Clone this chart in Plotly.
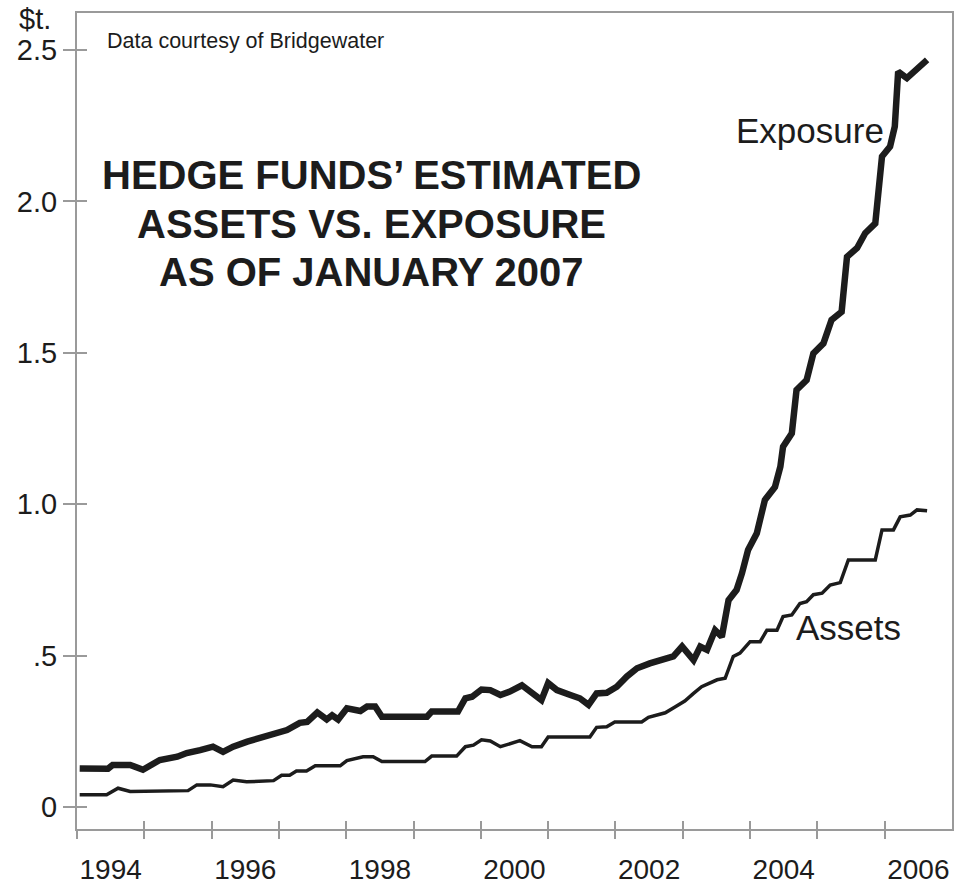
import plotly.graph_objects as go

# ---------------- data ----------------
exposure_years = [
    1994.04, 1994.46, 1994.53, 1994.79, 1994.98, 1995.23, 1995.49, 1995.63, 1995.83, 1996.02,
    1996.17, 1996.32, 1996.53, 1996.72, 1996.91, 1997.12, 1997.31, 1997.42, 1997.57, 1997.71,
    1997.79, 1997.88, 1998.01, 1998.21, 1998.31, 1998.43, 1998.53, 1999.20, 1999.27, 1999.66,
    1999.77, 1999.87, 2000.01, 2000.14, 2000.29, 2000.43, 2000.61, 2000.78, 2000.90, 2001.00,
    2001.13, 2001.33, 2001.47, 2001.60, 2001.72, 2001.87, 2002.02, 2002.17, 2002.32, 2002.51,
    2002.71, 2002.86, 2002.99, 2003.16, 2003.26, 2003.36, 2003.48, 2003.58, 2003.68, 2003.80,
    2003.88, 2003.97, 2004.10, 2004.22, 2004.37, 2004.45, 2004.49, 2004.62, 2004.69, 2004.84,
    2004.94, 2005.09, 2005.21, 2005.36, 2005.44, 2005.59, 2005.71, 2005.86, 2005.96, 2006.08,
    2006.15, 2006.20, 2006.33, 2006.43, 2006.63,
]
exposure_values = [
    0.127, 0.126, 0.139, 0.139, 0.123, 0.155, 0.166, 0.178, 0.188, 0.199,
    0.182, 0.199, 0.216, 0.227, 0.238, 0.254, 0.278, 0.281, 0.312, 0.289,
    0.303, 0.289, 0.326, 0.317, 0.332, 0.332, 0.298, 0.298, 0.315, 0.315,
    0.359, 0.364, 0.388, 0.386, 0.370, 0.381, 0.402, 0.370, 0.353, 0.409,
    0.386, 0.370, 0.359, 0.337, 0.375, 0.377, 0.397, 0.431, 0.458, 0.474,
    0.485, 0.497, 0.530, 0.485, 0.530, 0.519, 0.584, 0.562, 0.683, 0.717,
    0.772, 0.849, 0.904, 1.014, 1.057, 1.124, 1.190, 1.234, 1.377, 1.410,
    1.498, 1.531, 1.608, 1.635, 1.817, 1.846, 1.895, 1.927, 2.148, 2.181,
    2.247, 2.428, 2.407, 2.429, 2.467,
]

assets_years = [
    1994.04, 1994.44, 1994.61, 1994.79, 1995.65, 1995.78, 1995.98, 1996.17, 1996.32, 1996.52,
    1996.92, 1997.04, 1997.16, 1997.26, 1997.41, 1997.54, 1997.91, 1998.01, 1998.25, 1998.40,
    1998.53, 1999.17, 1999.27, 1999.64, 1999.77, 1999.89, 2000.01, 2000.14, 2000.29, 2000.43,
    2000.58, 2000.76, 2000.90, 2001.00, 2001.62, 2001.72, 2001.87, 2001.99, 2002.39, 2002.49,
    2002.74, 2002.89, 2003.03, 2003.16, 2003.28, 2003.51, 2003.63, 2003.75, 2003.85, 2004.00,
    2004.15, 2004.25, 2004.40, 2004.49, 2004.62, 2004.74, 2004.84, 2004.94, 2005.07, 2005.19,
    2005.34, 2005.46, 2005.86, 2005.96, 2006.13, 2006.23, 2006.38, 2006.48, 2006.63,
]
assets_values = [
    0.040, 0.040, 0.062, 0.051, 0.054, 0.073, 0.073, 0.067, 0.089, 0.083,
    0.087, 0.105, 0.105, 0.119, 0.119, 0.136, 0.136, 0.153, 0.166, 0.166,
    0.150, 0.150, 0.168, 0.168, 0.199, 0.204, 0.222, 0.218, 0.199, 0.210,
    0.219, 0.199, 0.199, 0.231, 0.231, 0.263, 0.265, 0.281, 0.281, 0.296,
    0.311, 0.331, 0.350, 0.375, 0.397, 0.420, 0.425, 0.497, 0.508, 0.546,
    0.546, 0.584, 0.584, 0.629, 0.634, 0.672, 0.678, 0.701, 0.706, 0.733,
    0.741, 0.816, 0.816, 0.915, 0.915, 0.958, 0.964, 0.981, 0.978,
]

year_boundaries = list(range(1994, 2007))
year_label_positions = [1994.5, 1996.5, 1998.5, 2000.5, 2002.5, 2004.5, 2006.5]
year_labels = ["1994", "1996", "1998", "2000", "2002", "2004", "2006"]

y_tickvals = [0, 0.5, 1.0, 1.5, 2.0, 2.5]
y_ticktext = ["0", ".5", "1.0", "1.5", "2.0", "2.5"]

title_lines = ["HEDGE FUNDS\u2019 ESTIMATED", "ASSETS VS. EXPOSURE", "AS OF JANUARY 2007"]

# ---------------- figure ----------------
FONT = "Liberation Sans, Arial, Helvetica, sans-serif"
INK = "#1c1c1c"
AXIS = "#9a9a9a"

fig = go.Figure()
fig.add_trace(go.Scatter(x=exposure_years, y=exposure_values, mode="lines",
                         line=dict(color=INK, width=6.5), name="Exposure",
                         xaxis="x", yaxis="y", hoverinfo="skip"))
fig.add_trace(go.Scatter(x=assets_years, y=assets_values, mode="lines",
                         line=dict(color=INK, width=3.5), name="Assets",
                         xaxis="x2", yaxis="y2", hoverinfo="skip"))

x_range = [1994, 2007]
y_range = [-0.0727, 2.622]

fig.update_layout(
    width=958, height=884, autosize=False,
    margin=dict(l=77, r=6, t=13, b=55),
    paper_bgcolor="white", plot_bgcolor="white",
    showlegend=False,
    font=dict(family=FONT, color=INK),
    # main x axis: year labels centred in each year, outside ticks at year starts
    xaxis=dict(range=x_range, tickmode="array", tickvals=year_label_positions,
               ticktext=year_labels, ticks="",
               tickfont=dict(size=28, color=INK, family=FONT),
               ticklabelstandoff=14,
               minor=dict(tickmode="array", tickvals=year_boundaries, ticks="outside",
                          ticklen=8, tickwidth=1.5, tickcolor=AXIS, showgrid=False),
               showline=True, linecolor=AXIS, linewidth=2, mirror=True,
               showgrid=False, zeroline=False, automargin=False, fixedrange=True),
    # overlay x axis: inside ticks at year starts (ticks cross the axis line)
    xaxis2=dict(range=x_range, overlaying="x", anchor="y2", tickmode="array",
                tickvals=year_boundaries, ticks="inside", ticklen=8, tickwidth=1.5,
                tickcolor=AXIS, showticklabels=False, showline=False,
                showgrid=False, zeroline=False, automargin=False, fixedrange=True),
    yaxis=dict(range=y_range, tickmode="array", tickvals=y_tickvals, ticktext=y_ticktext,
               ticks="outside", ticklen=12, tickwidth=1.5, tickcolor=AXIS,
               tickfont=dict(size=29, color=INK, family=FONT),
               ticklabelstandoff=0,
               showline=True, linecolor=AXIS, linewidth=2, mirror=True,
               showgrid=False, zeroline=False, automargin=False, fixedrange=True),
    yaxis2=dict(range=y_range, overlaying="y", anchor="x2", tickmode="array",
                tickvals=y_tickvals, ticks="inside", ticklen=10, tickwidth=1.5,
                tickcolor=AXIS, showticklabels=False, showline=False,
                showgrid=False, zeroline=False, automargin=False, fixedrange=True),
)

fig.add_annotation(text="$t.", xref="paper", yref="paper", x=-0.027, y=0.993,
                   xanchor="right", yanchor="middle", showarrow=False,
                   font=dict(size=29, color=INK, family=FONT))
fig.add_annotation(text="Data courtesy of Bridgewater", xref="paper", yref="paper",
                   x=0.032, y=0.966, xanchor="left", yanchor="middle", showarrow=False,
                   font=dict(size=21.5, color=INK, family=FONT))
for line_text, ypos in zip(title_lines, [0.801, 0.742, 0.683]):
    fig.add_annotation(text="<b>%s</b>" % line_text, xref="paper", yref="paper",
                       x=0.337, y=ypos, xanchor="center", yanchor="middle",
                       showarrow=False, font=dict(size=40, color=INK, family=FONT))
fig.add_annotation(text="Exposure", xref="paper", yref="paper", x=0.838, y=0.856,
                   xanchor="center", yanchor="middle", showarrow=False,
                   font=dict(size=35, color=INK, family=FONT))
fig.add_annotation(text="Assets", xref="paper", yref="paper", x=0.882, y=0.247,
                   xanchor="center", yanchor="middle", showarrow=False,
                   font=dict(size=35, color=INK, family=FONT))

fig.write_html("out.html", config={"displayModeBar": False, "responsive": False},
               post_script="document.body.style.margin='0px';"
                           "document.body.style.overflow='hidden';")
